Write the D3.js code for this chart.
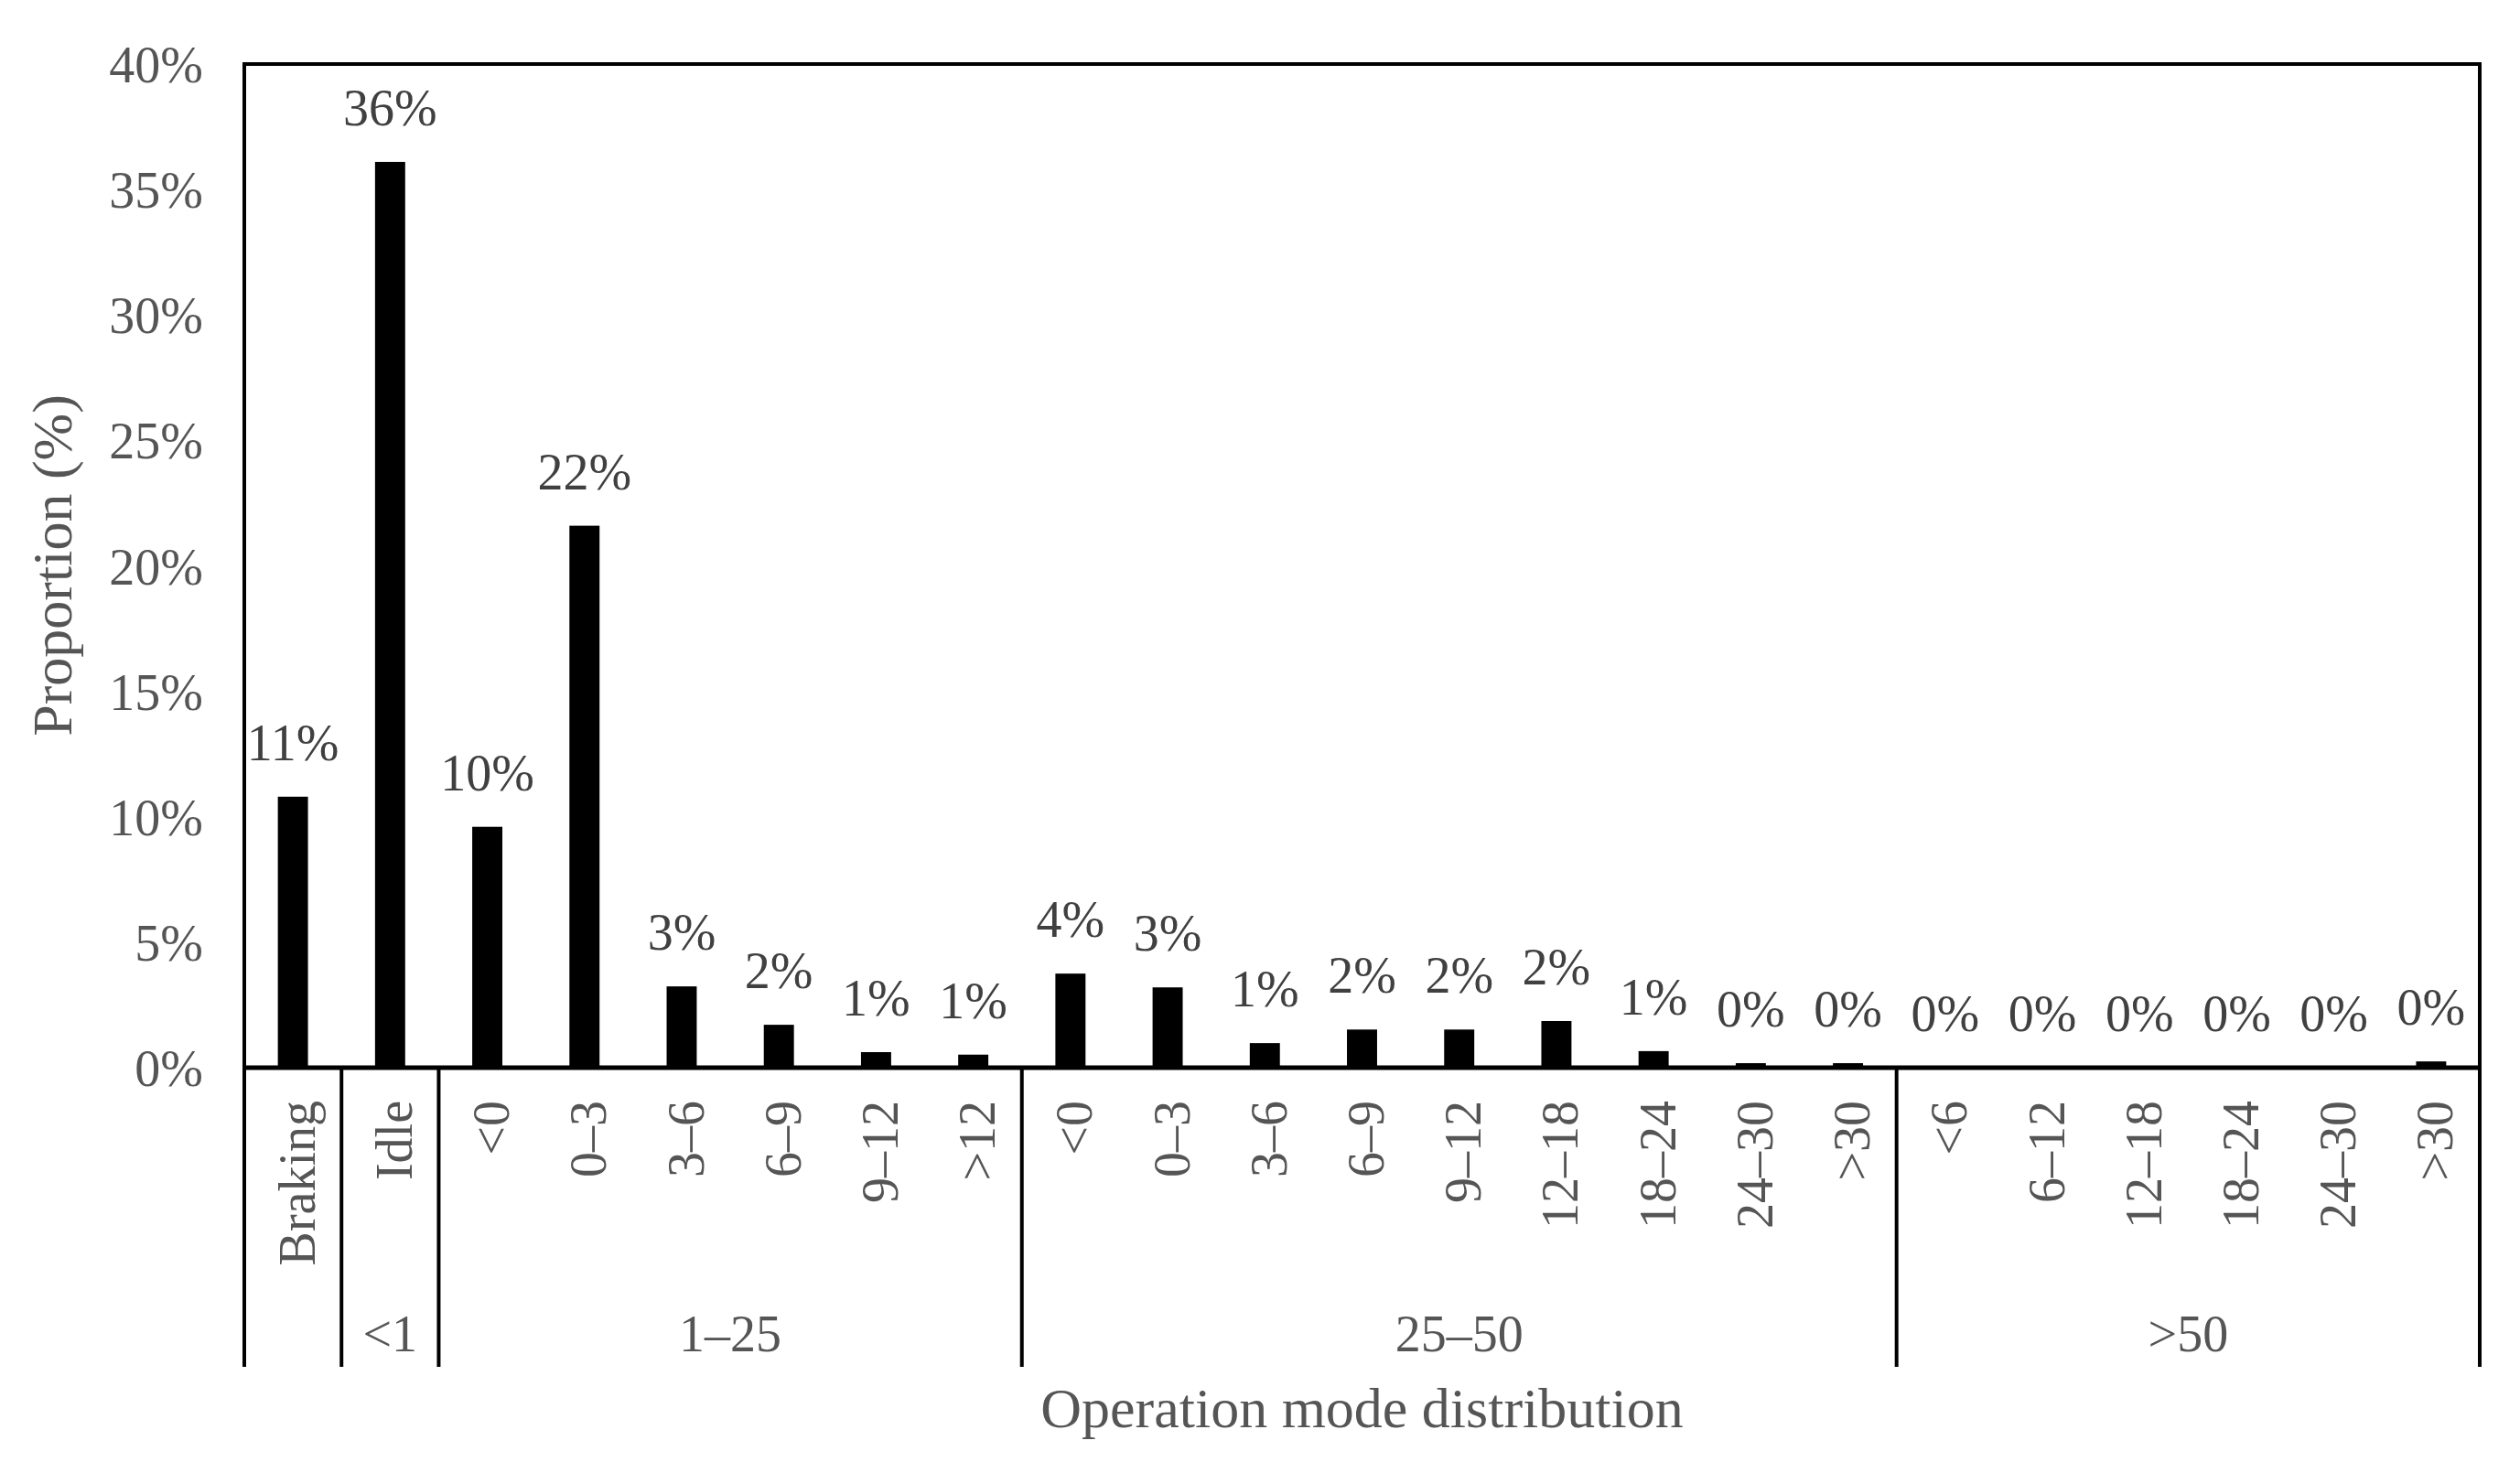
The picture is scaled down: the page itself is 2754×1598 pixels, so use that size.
<!DOCTYPE html>
<html>
<head>
<meta charset="utf-8">
<script src="https://cdn.jsdelivr.net/npm/d3@7"></script>
<style>
  html, body { margin: 0; padding: 0; background: #fff; }
  svg { display: block; }
  text { font-family: "Liberation Serif", "Times New Roman", serif; fill: #555; }
</style>
</head>
<body>
<svg id="chart" width="2754" height="1598"></svg>
<script>
// ---- data ----
const categories = ["Braking","Idle","<0","0–3","3–6","6–9","9–12",">12",
  "<0","0–3","3–6","6–9","9–12","12–18","18–24","24–30",">30",
  "<6","6–12","12–18","18–24","24–30",">30"];
const proportions = [0.108,0.361,0.096,0.216,0.0324,0.0171,0.0062,0.0052,
  0.0375,0.032,0.0098,0.0152,0.0152,0.0186,0.0066,0.0018,0.0018,
  0,0,0,0,0,0.0025];
const groupLabels = ["", "<1", "1–25", "25–50", ">50"];
const groupSizes = [1, 1, 6, 9, 6];
const yTicks = [0,0.05,0.10,0.15,0.20,0.25,0.30,0.35,0.40];
const yTitle = "Proportion (%)";
const xTitle = "Operation mode distribution";

// ---- layout ----
const pLeft = 267, pRight = 2710, pTop = 70, pBase = 1167, linesBottom = 1494;
const svg = d3.select("#chart");

const x = d3.scaleBand().domain(d3.range(categories.length))
  .range([pLeft, pRight]).paddingInner(0.69).paddingOuter(0.345);
const y = d3.scaleLinear().domain([0, 0.4]).range([pBase, pTop]);
const pct = d3.format(".0%");

// bars
svg.append("g").selectAll("rect").data(proportions).join("rect")
  .attr("x", (d,i) => x(i))
  .attr("width", x.bandwidth())
  .attr("y", d => y(d))
  .attr("height", d => pBase - y(d))
  .attr("fill", "#000");

// value labels
svg.append("g").selectAll("text").data(proportions).join("text")
  .attr("x", (d,i) => x(i) + x.bandwidth()/2)
  .attr("y", d => y(d) - 40)
  .attr("text-anchor", "middle")
  .attr("font-size", 56)
  .style("fill", "#404040")
  .text(d => pct(d));

// y axis (labels only)
const yAxis = d3.axisLeft(y).tickValues(yTicks).tickFormat(pct).tickSize(0).tickPadding(0);
const yg = svg.append("g").attr("transform", `translate(222,0)`).call(yAxis);
yg.select(".domain").remove();
yg.selectAll("text").attr("font-size", 56).attr("font-family", "Liberation Serif").style("fill", "#555").attr("dy", "0.35em");

// plot frame
svg.append("rect").attr("x", pLeft).attr("y", pTop)
  .attr("width", pRight - pLeft).attr("height", pBase - pTop)
  .attr("fill", "none").attr("stroke", "#000").attr("stroke-width", 4);
// baseline
svg.append("line").attr("x1", pLeft - 2).attr("x2", pRight + 2)
  .attr("y1", pBase).attr("y2", pBase).attr("stroke", "#000").attr("stroke-width", 5);

// category labels (rotated)
svg.append("g").selectAll("text").data(categories).join("text")
  .attr("transform", (d,i) => `translate(${x(i) + x.bandwidth()/2},1203) rotate(-90)`)
  .attr("text-anchor", "end")
  .attr("dy", "0.42em")
  .attr("font-size", 56)
  .text(d => d);

// group separators and labels
const step = x.step();
let idx = 0;
const bounds = [0];
groupSizes.forEach(s => { idx += s; bounds.push(idx); });
svg.append("g").selectAll("line").data(bounds).join("line")
  .attr("x1", b => pLeft + b * step).attr("x2", b => pLeft + b * step)
  .attr("y1", pBase).attr("y2", linesBottom)
  .attr("stroke", "#000").attr("stroke-width", 4);
svg.append("g").selectAll("text").data(groupLabels).join("text")
  .attr("x", (d,i) => pLeft + (bounds[i] + bounds[i+1]) / 2 * step)
  .attr("y", 1477)
  .attr("text-anchor", "middle")
  .attr("font-size", 56)
  .text(d => d);

// axis titles
svg.append("text")
  .attr("transform", `translate(78,618) rotate(-90)`)
  .attr("text-anchor", "middle")
  .attr("font-size", 62)
  .text(yTitle);
svg.append("text")
  .attr("x", (pLeft + pRight) / 2).attr("y", 1560)
  .attr("text-anchor", "middle")
  .attr("font-size", 62)
  .text(xTitle);
</script>
</body>
</html>
